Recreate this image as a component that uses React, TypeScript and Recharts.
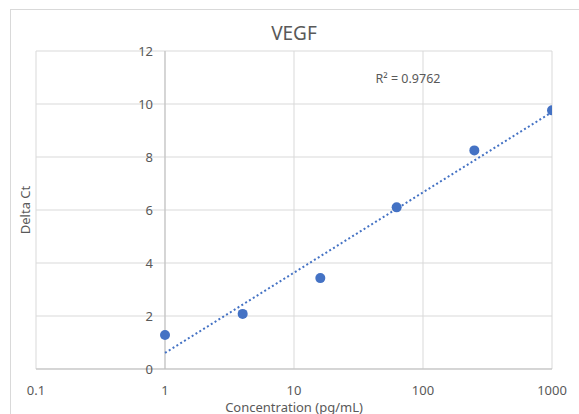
import React from "react";
import {
  ScatterChart,
  Scatter,
  XAxis,
  YAxis,
  CartesianGrid,
  ReferenceLine,
  Label,
} from "recharts";

// 4-fold dilution series
const concentrations = [1, 4, 16, 62.5, 250, 1000];
const deltaCt = [1.28, 2.08, 3.43, 6.1, 8.25, 9.76];
const xTicks = [0.1, 1, 10, 100, 1000];
const yTicks = [0, 2, 4, 6, 8, 10, 12];
const r2Label = "R² = 0.9762";

const W = 579;
const H = 414;
const margin = { top: 51, right: 27, bottom: 0, left: 0 };
const yAxisWidth = 36;
const xAxisHeight = 45;
const plotWidth = W - margin.left - margin.right - yAxisWidth;
const TEXT = "#595959";
const GRID = "#d9d9d9";
const BLUE = "#4472C4";
const FONT = "'Noto Sans', sans-serif";

const points = concentrations.map((x, i) => ({ x, y: deltaCt[i] }));

// logarithmic trendline: y = a*ln(x) + b
const lx = concentrations.map((c) => Math.log(c));
const mx = lx.reduce((s, v) => s + v, 0) / lx.length;
const my = deltaCt.reduce((s, v) => s + v, 0) / deltaCt.length;
const a =
  lx.reduce((s, v, i) => s + (v - mx) * (deltaCt[i] - my), 0) /
  lx.reduce((s, v) => s + (v - mx) * (v - mx), 0);
const b = my - a * mx;
const xMin = concentrations[0];
const xMax = concentrations[concentrations.length - 1];
const trend = [
  { x: xMin, y: a * Math.log(xMin) + b },
  { x: xMax, y: a * Math.log(xMax) + b },
];

// y axis crosses at x = 1 (like Excel)
const crossX =
  ((Math.log10(1) - Math.log10(xTicks[0])) /
    (Math.log10(xTicks[xTicks.length - 1]) - Math.log10(xTicks[0]))) *
  plotWidth;

const XTick = ({ x, y, payload }: any) => (
  <text
    x={x}
    y={y + 21}
    textAnchor="middle"
    dominantBaseline="central"
    fill={TEXT}
    fontSize={13}
    fontFamily={FONT}
  >
    {payload.value}
  </text>
);

const YTick = ({ x, y, payload }: any) => (
  <text
    x={x + crossX - 12}
    y={y}
    textAnchor="end"
    dominantBaseline="central"
    fill={TEXT}
    fontSize={13}
    fontFamily={FONT}
  >
    {payload.value}
  </text>
);

export default function App() {
  return (
    <div
      style={{
        position: "fixed",
        left: 0,
        top: 0,
        width: W,
        height: H,
        overflow: "hidden",
        background: "#fff",
      }}
    >
      <div
        style={{
          position: "absolute",
          left: 10,
          top: 9,
          width: 620,
          height: 440,
          border: `1px solid ${GRID}`,
        }}
      />
      <ScatterChart
        width={W}
        height={H}
        margin={margin}
        style={{ position: "absolute", left: 0, top: 0 }}
      >
        <text
          x={margin.left + yAxisWidth + plotWidth / 2}
          y={33}
          textAnchor="middle"
          dominantBaseline="central"
          fill={TEXT}
          fontSize={19}
          fontFamily={FONT}
        >
          VEGF
        </text>
        <CartesianGrid stroke={GRID} strokeWidth={1} />
        <XAxis
          type="number"
          dataKey="x"
          scale="log"
          domain={[0.1, 1000]}
          ticks={xTicks}
          allowDataOverflow
          height={xAxisHeight}
          tickSize={0}
          tickMargin={0}
          tick={<XTick />}
          axisLine={{ stroke: "#bfbfbf" }}
          tickLine={false}
        >
          <Label
            content={({ viewBox }: any) => (
              <text
                x={viewBox.x + viewBox.width / 2}
                y={406.5}
                textAnchor="middle"
                dominantBaseline="central"
                fill={TEXT}
                fontSize={13}
                fontFamily={FONT}
              >
                Concentration (pg/mL)
              </text>
            )}
          />
        </XAxis>
        <YAxis
          type="number"
          dataKey="y"
          domain={[0, 12]}
          ticks={yTicks}
          width={yAxisWidth}
          axisLine={false}
          tickLine={false}
          tickSize={0}
          tickMargin={0}
          tick={<YTick />}
        >
          <Label
            content={({ viewBox }: any) => {
              const cx = 25;
              const cy = viewBox.y + viewBox.height / 2;
              return (
                <text
                  x={cx}
                  y={cy}
                  transform={`rotate(-90 ${cx} ${cy})`}
                  textAnchor="middle"
                  dominantBaseline="central"
                  fill={TEXT}
                  fontSize={13}
                  fontFamily={FONT}
                >
                  Delta Ct
                </text>
              );
            }}
          />
        </YAxis>
        <ReferenceLine x={1} stroke="#bfbfbf" strokeWidth={1} />
        <Scatter
          data={trend}
          line={{ stroke: BLUE, strokeWidth: 2, strokeDasharray: "2 2.5" }}
          lineType="joint"
          shape={() => null}
          isAnimationActive={false}
        />
        <Scatter
          data={points}
          fill={BLUE}
          shape={(p: any) => <circle cx={p.cx} cy={p.cy} r={5} fill={BLUE} />}
          isAnimationActive={false}
        />
        <text
          x={408}
          y={78}
          textAnchor="middle"
          dominantBaseline="central"
          fill={TEXT}
          fontSize={12.5}
          fontFamily={FONT}
        >
          {r2Label}
        </text>
      </ScatterChart>
    </div>
  );
}
